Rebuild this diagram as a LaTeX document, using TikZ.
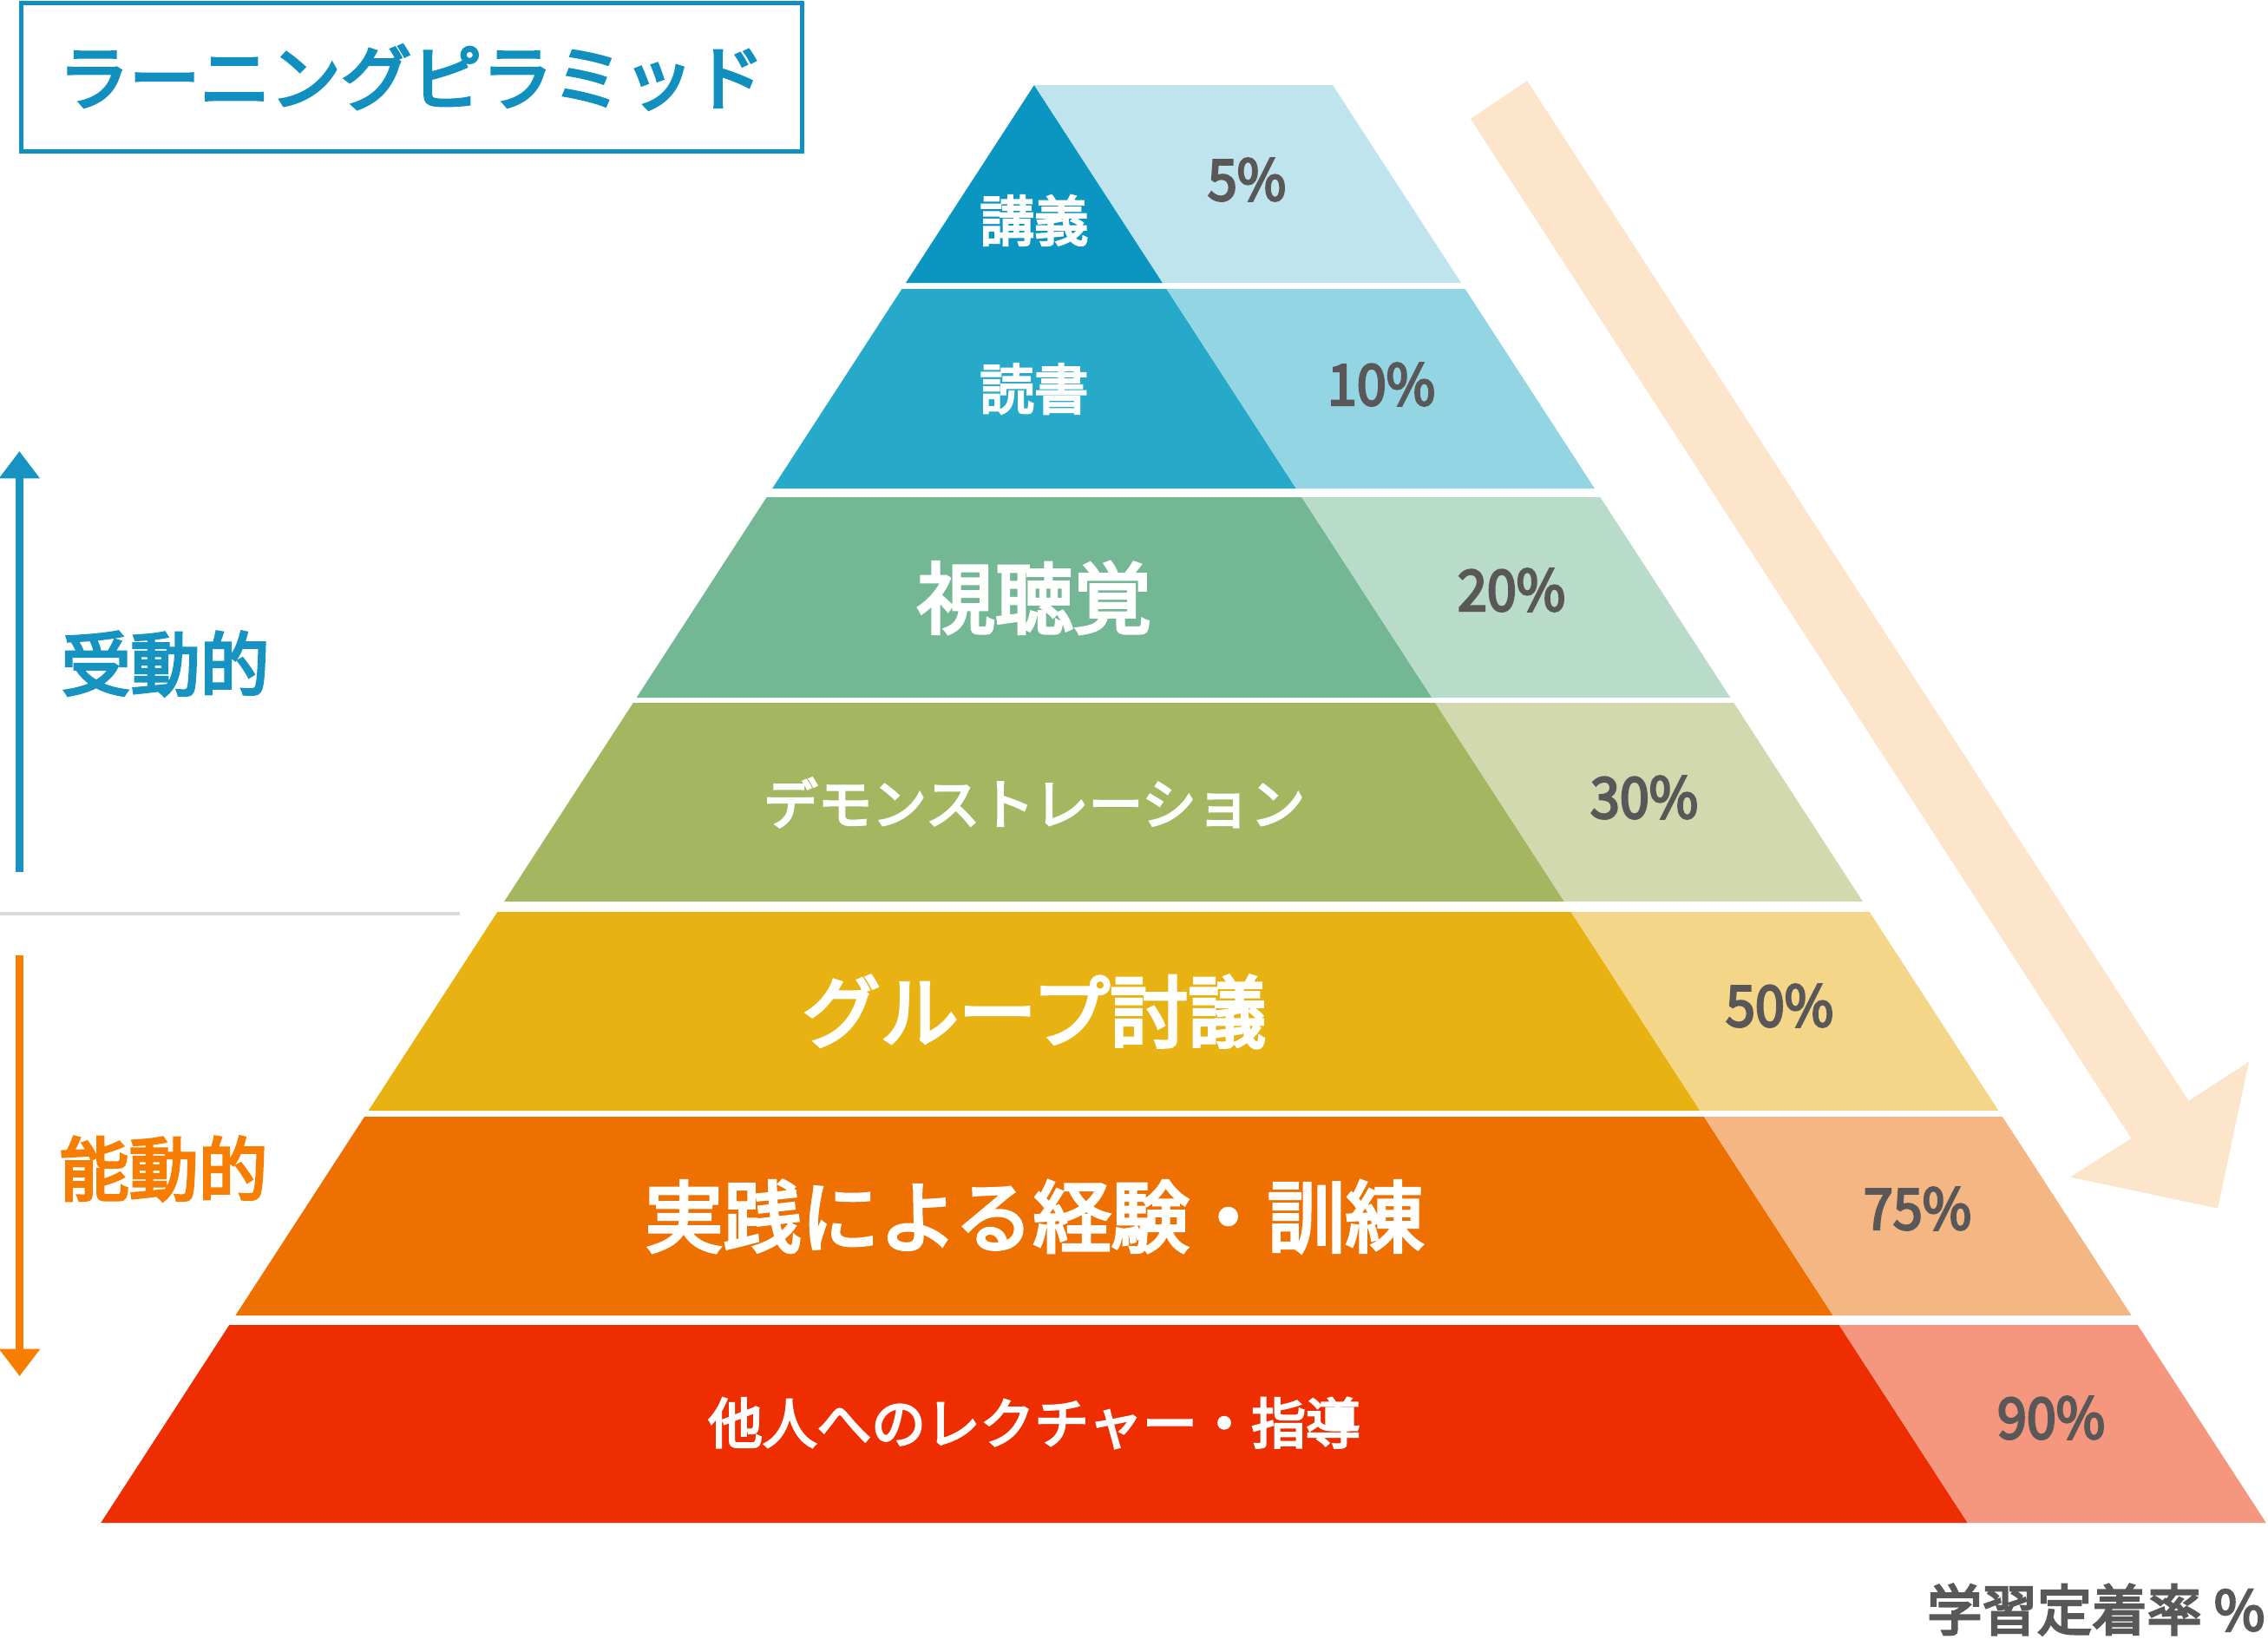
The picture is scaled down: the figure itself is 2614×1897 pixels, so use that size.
\documentclass[tikz,border=0pt]{standalone}
\usepackage{fontspec}
\setmainfont{Noto Sans CJK JP}
\newfontfamily\jpm{Noto Sans CJK JP}[FakeBold=4]
\usetikzlibrary{arrows.meta}
\definecolor{titleblue}{HTML}{1190C0}
\definecolor{passblue}{HTML}{1793C1}
\definecolor{actorange}{HTML}{F77E00}
\definecolor{pctgray}{HTML}{595757}
\definecolor{sepgray}{HTML}{D9D9D9}
\definecolor{peach}{HTML}{FDE5CC}
\definecolor{dA}{HTML}{0A96C0}\definecolor{lA}{HTML}{C0E4ED}
\definecolor{dB}{HTML}{27A9C9}\definecolor{lB}{HTML}{94D5E4}
\definecolor{dC}{HTML}{74B794}\definecolor{lC}{HTML}{B9DBC9}
\definecolor{dD}{HTML}{A5B661}\definecolor{lD}{HTML}{D2D9AE}
\definecolor{dE}{HTML}{E7B212}\definecolor{lE}{HTML}{F3D688}
\definecolor{dF}{HTML}{EE7000}\definecolor{lF}{HTML}{F4B783}
\definecolor{dG}{HTML}{EE2E00}\definecolor{lG}{HTML}{F5967E}
\newcommand\pyrrow[4]{%
  \pgfmathsetmacro\Lt{1192-0.6492*(#1-98)}%
  \pgfmathsetmacro\St{1192+0.6492*(#1-98)}%
  \pgfmathsetmacro\Lb{1192-0.6492*(#2-98)}%
  \pgfmathsetmacro\Sb{1192+0.6492*(#2-98)}%
  \fill[#3] (\Lt,#1) -- (\St,#1) -- (\Sb,#2) -- (\Lb,#2) -- cycle;
  \fill[#4] (\St,#1) -- (\St+344,#1) -- (\Sb+344,#2) -- (\Sb,#2) -- cycle;
}
\newcommand\pcttext[1]{\scalebox{0.94}[1]{#1}}
\tikzset{
  rowsmall/.style={inner sep=0pt, text=white, font=\jpm\fontsize{18.8}{22}\selectfont},
  rowbig/.style={inner sep=0pt, text=white, font=\jpm\fontsize{27}{32}\selectfont},
  pct/.style={inner sep=0pt, text=pctgray, font=\jpm\fontsize{19.5}{24}\selectfont},
  sidelabel/.style={inner sep=0pt, font=\jpm\fontsize{24}{28}\selectfont},
}
\begin{document}
\begin{tikzpicture}[x=0.3pt,y=-0.3pt]
\useasboundingbox (0,0) rectangle (2614,1897);
\fill[white] (0,0) rectangle (2614,1897);
% big peach arrow
\fill[peach] (1695,137) -- (2456.5,1312) -- (2386,1356.6) -- (2556,1392.5)
  -- (2592,1223.6) -- (2522.5,1268.7) -- (1760,93) -- cycle;
% pyramid rows
\pyrrow{98}{326}{dA}{lA}
\pyrrow{333}{563}{dB}{lB}
\pyrrow{573}{804}{dC}{lC}
\pyrrow{810}{1039}{dD}{lD}
\pyrrow{1051}{1280}{dE}{lE}
\pyrrow{1287}{1516}{dF}{lF}
\pyrrow{1527}{1755}{dG}{lG}
% row labels
\node[rowsmall] (t1) at (1192,254) {講義};
\node[rowsmall] (t2) at (1192,448) {読書};
\node[rowbig] (t3) at (1192,689) {視聴覚};
\node[rowsmall] (t4) at (1192,925) {デモンストレーション};
\node[rowbig] (t5) at (1192,1166) {グループ討議};
\node[rowbig] (t6) at (1192,1402) {実践による経験・訓練};
\node[rowsmall] (t7) at (1192,1640) {他人へのレクチャー・指導};
% percentages
\node[pct] (p1) at (1437,207) {\pcttext{5\%}};
\node[pct] (p2) at (1592,443) {\pcttext{10\%}};
\node[pct] (p3) at (1742,680) {\pcttext{20\%}};
\node[pct] (p4) at (1895,919) {\pcttext{30\%}};
\node[pct] (p5) at (2051,1159) {\pcttext{50\%}};
\node[pct] (p6) at (2210,1393) {\pcttext{75\%}};
\node[pct] (p7) at (2364,1634) {\pcttext{90\%}};
% title
\node[draw=titleblue, line width=1.5pt, minimum width=269.85pt, minimum height=51.45pt,
  inner sep=0pt, text=titleblue, font=\jpm\fontsize{24.4}{28}\selectfont]
  (title) at (474.25,89) {ラーニングピラミッド};
% left side
\coordinate (pb) at (22.4,1005);
\coordinate (pt) at (22.4,520);
\draw[passblue, line width=2.8pt, -{Triangle[length=9.4pt,width=13.5pt]}] (pb) -- (pt);
\coordinate (ab) at (22.6,1101);
\coordinate (at) at (22.6,1586);
\draw[actorange, line width=2.8pt, -{Triangle[length=9.4pt,width=13.6pt]}] (ab) -- (at);
\coordinate (sl) at (0,1052.7);
\coordinate (sr) at (530,1052.7);
\draw[sepgray, line width=1.2pt] (sl) -- (sr);
\node[sidelabel, text=passblue, anchor=west] (passive) at (70,765) {受動的};
\node[sidelabel, text=actorange, anchor=west] (active) at (68,1347) {能動的};
% bottom label
\node[inner sep=0pt, anchor=east, text=pctgray, font=\jpm\fontsize{19}{23}\selectfont]
  (axis) at (2611,1855) {学習定着率 \%};
\end{tikzpicture}
\end{document}
